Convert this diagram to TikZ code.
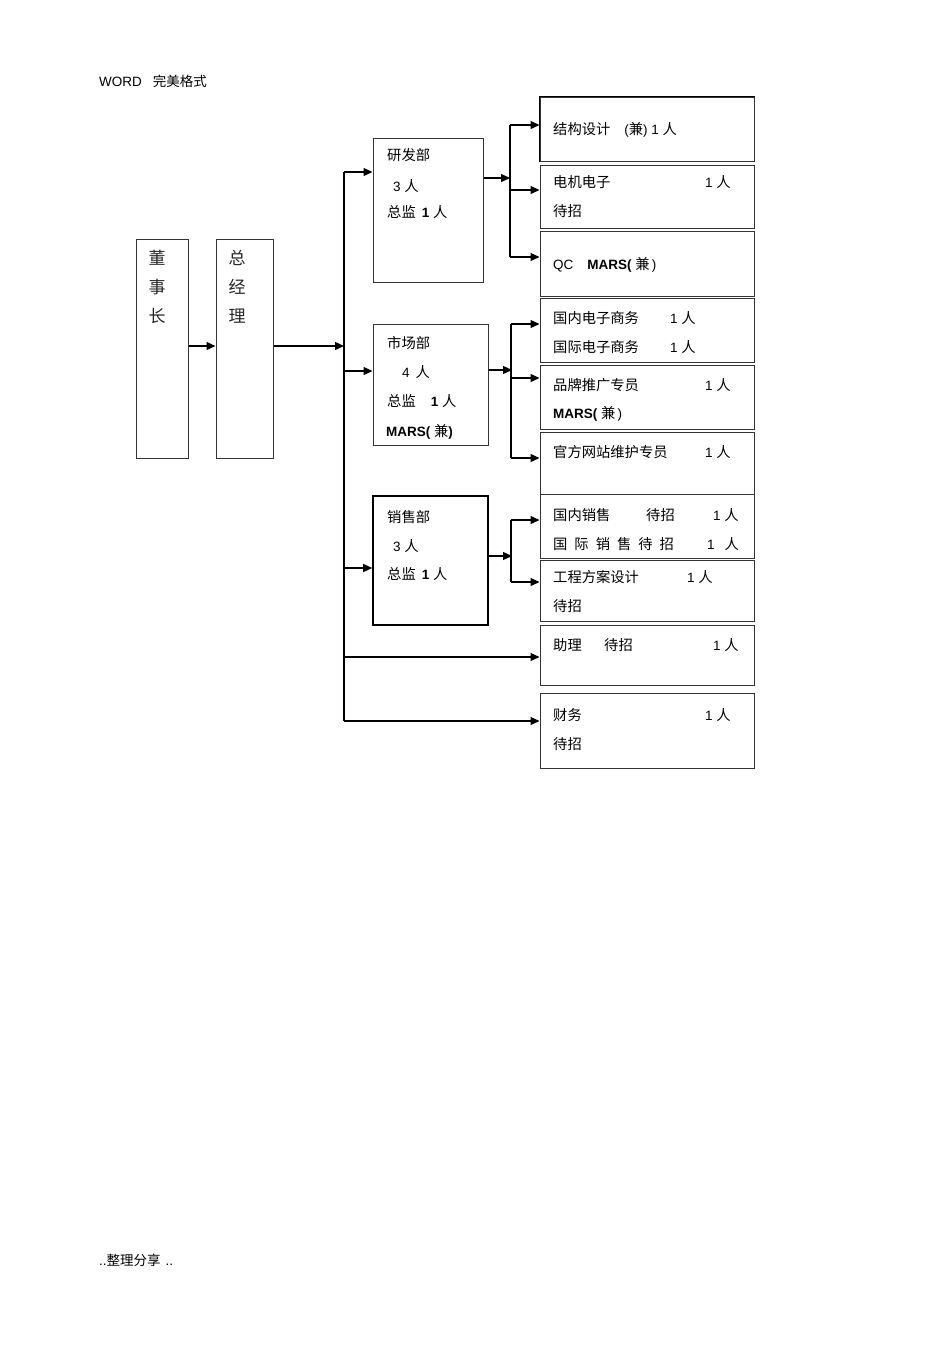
\documentclass[tikz,border=0pt]{standalone}
\usepackage{fontspec}
\setmainfont{Liberation Sans}
\newfontfamily\cjk{Noto Sans CJK SC}
\usetikzlibrary{arrows.meta}
\newcommand\zh[1]{{\cjk\fontsize{14.3}{16}\selectfont #1}}
\tikzset{
  box/.style={draw=black!80, line width=1pt, minimum width=#1, inner sep=0pt},
  arr/.style={line width=1.3pt, -{Triangle[length=9pt,width=8pt]}},
  conn/.style={line width=1.3pt},
  txt/.style={anchor=west, inner sep=0pt, font=\fontsize{13.5}{16}\selectfont},
  vtxt/.style={anchor=north, inner sep=0pt, align=center, text=black!85, font=\cjk\fontsize{17}{29}\selectfont},
}
\begin{document}
\begin{tikzpicture}[x=1pt,y=-1pt]
\useasboundingbox[fill=white] (0,0) rectangle (950,1345);

% header / footer
\node[txt, font=\fontsize{13.5}{15}\selectfont] (hdr) at (99,81) {WORD\hspace{11pt}{\cjk\fontsize{13.5}{15}\selectfont 完美格式}};
\node[txt, font=\fontsize{13.5}{15}\selectfont] (ftr) at (99,1260) {..{\cjk\fontsize{13.5}{15}\selectfont 整理分享}\hspace{5pt}..};

% left boxes
\node[box=52pt, minimum height=219pt] (dsz) at (162,348.5) {};
\node[box=57pt, minimum height=219pt] (zjl) at (244.5,348.5) {};
\node[vtxt] (dszt) at (157,250) {董\\事\\长};
\node[vtxt] (zjlt) at (237,250) {总\\经\\理};

% department boxes
\node[box=110pt, minimum height=144pt] (yf) at (428,210) {};
\node[box=115pt, minimum height=121pt] (sc) at (430.5,384.5) {};
\node[box=115pt, minimum height=129pt, line width=1.6pt, draw=black] (xs) at (430.5,560.5) {};

\node[txt] (yf1) at (387,155) {\zh{研发部}};
\node[txt] (yf2) at (393,186) {3 \zh{人}};
\node[txt] (yf3) at (387,212) {\zh{总监}\hspace{6pt}\textbf{1} \zh{人}};

\node[txt] (sc1) at (387,343) {\zh{市场部}};
\node[txt] (sc2) at (402,372) {4\hspace{6pt}\zh{人}};
\node[txt] (sc3) at (387,401) {\zh{总监}\hspace{15pt}\textbf{1} \zh{人}};
\node[txt] (sc4) at (386,432) {\textbf{MARS(} \zh{兼}\textbf{)}};

\node[txt] (xs1) at (387,517) {\zh{销售部}};
\node[txt] (xs2) at (393,546) {3 \zh{人}};
\node[txt] (xs3) at (387,574) {\zh{总监}\hspace{6pt}\textbf{1} \zh{人}};

% right boxes
\node[box=214pt, minimum height=64pt] (r1) at (647,129) {};
\draw[line width=1.6pt] (r1.south west) -- (r1.north west) -- (r1.north east);
\node[box=214pt, minimum height=63pt] (r2) at (647,196.5) {};
\node[box=214pt, minimum height=65pt] (r3) at (647,263.5) {};
\node[box=214pt, minimum height=64pt] (r4) at (647,330) {};
\node[box=214pt, minimum height=64pt] (r5) at (647,397) {};
\node[box=214pt, minimum height=62pt] (r6) at (647,463) {};
\node[box=214pt, minimum height=64pt] (r7) at (647,526) {};
\node[box=214pt, minimum height=61pt] (r8) at (647,590.5) {};
\node[box=214pt, minimum height=60pt] (r9) at (647,655) {};
\node[box=214pt, minimum height=75pt] (r10) at (647,730.5) {};

\node[txt] (t1) at (553,130) {\zh{结构设计}\hspace{14pt}(\zh{兼}) 1 \zh{人}};
\node[txt] (t2a) at (553,182) {\zh{电机电子}};
\node[txt] (t2b) at (705,182) {1 \zh{人}};
\node[txt] (t2c) at (553,211) {\zh{待招}};
\node[txt] (t3) at (553,265) {QC\hspace{14pt}\textbf{MARS(} \zh{兼}\,)};
\node[txt] (t4a) at (553,318) {\zh{国内电子商务}};
\node[txt] (t4b) at (670,318) {1 \zh{人}};
\node[txt] (t4c) at (553,347) {\zh{国际电子商务}};
\node[txt] (t4d) at (670,347) {1 \zh{人}};
\node[txt] (t5a) at (553,385) {\zh{品牌推广专员}};
\node[txt] (t5b) at (705,385) {1 \zh{人}};
\node[txt] (t5c) at (553,414) {\textbf{MARS(} \zh{兼}\,)};
\node[txt] (t6a) at (553,452) {\zh{官方网站维护专员}};
\node[txt] (t6b) at (705,452) {1 \zh{人}};
\node[txt] (t7a) at (553,515) {\zh{国内销售}};
\node[txt] (t7b) at (646,515) {\zh{待招}};
\node[txt] (t7c) at (713,515) {1 \zh{人}};
\node[txt] (t7d) at (553,544) {\zh{国\hspace{7pt}际\hspace{7pt}销\hspace{7pt}售\hspace{7pt}待\hspace{7pt}招}};
\node[txt] (t7e) at (707,544) {1\hspace{10pt}\zh{人}};
\node[txt] (t8a) at (553,577) {\zh{工程方案设计}};
\node[txt] (t8b) at (687,577) {1 \zh{人}};
\node[txt] (t8c) at (553,606) {\zh{待招}};
\node[txt] (t9a) at (553,645) {\zh{助理}};
\node[txt] (t9b) at (604,645) {\zh{待招}};
\node[txt] (t9c) at (713,645) {1 \zh{人}};
\node[txt] (t10a) at (553,715) {\zh{财务}};
\node[txt] (t10b) at (705,715) {1 \zh{人}};
\node[txt] (t10c) at (553,744) {\zh{待招}};

% main connectors
\coordinate (tt) at (344,172);
\coordinate (tb) at (344,721);
\coordinate (tm) at (344,346);
\draw[arr] ([yshift=2.5pt]dsz.east) -- ([yshift=2.5pt]zjl.west);
\draw[arr] ([yshift=2.5pt]zjl.east) -- (tm);
\draw[conn] (tt) -- (tb);
\draw[arr] (tt) -- (yf.west |- tt);
\coordinate (ts) at (344,371);
\draw[arr] (ts) -- (sc.west |- ts);
\coordinate (tx) at (344,568);
\draw[arr] (tx) -- (xs.west |- tx);
\coordinate (tz) at (344,657);
\draw[arr] (tz) -- (r9.west |- tz);
\draw[arr] (tb) -- (r10.west |- tb);

% 研发部 branch
\coordinate (j1) at (510,178);
\coordinate (j1t) at (510,125);
\coordinate (j1m) at (510,190);
\coordinate (j1b) at (510,257);
\draw[arr] (yf.east |- j1) -- (j1);
\draw[conn] (j1t) -- (j1b);
\draw[arr] (j1t) -- (r1.west |- j1t);
\draw[arr] (j1m) -- (r2.west |- j1m);
\draw[arr] (j1b) -- (r3.west |- j1b);

% 市场部 branch
\coordinate (j2) at (512,370);
\coordinate (j2t) at (511,324);
\coordinate (j2m) at (511,378);
\coordinate (j2b) at (511,458);
\draw[arr] (sc.east |- j2) -- (j2);
\draw[conn] (j2t) -- (j2b);
\draw[arr] (j2t) -- (r4.west |- j2t);
\draw[arr] (j2m) -- (r5.west |- j2m);
\draw[arr] (j2b) -- (r6.west |- j2b);

% 销售部 branch
\coordinate (j3) at (512,556);
\coordinate (j3t) at (511,520);
\coordinate (j3b) at (511,582);
\draw[arr] (xs.east |- j3) -- (j3);
\draw[conn] (j3t) -- (j3b);
\draw[arr] (j3t) -- (r7.west |- j3t);
\draw[arr] (j3b) -- (r8.west |- j3b);
\end{tikzpicture}
\end{document}
